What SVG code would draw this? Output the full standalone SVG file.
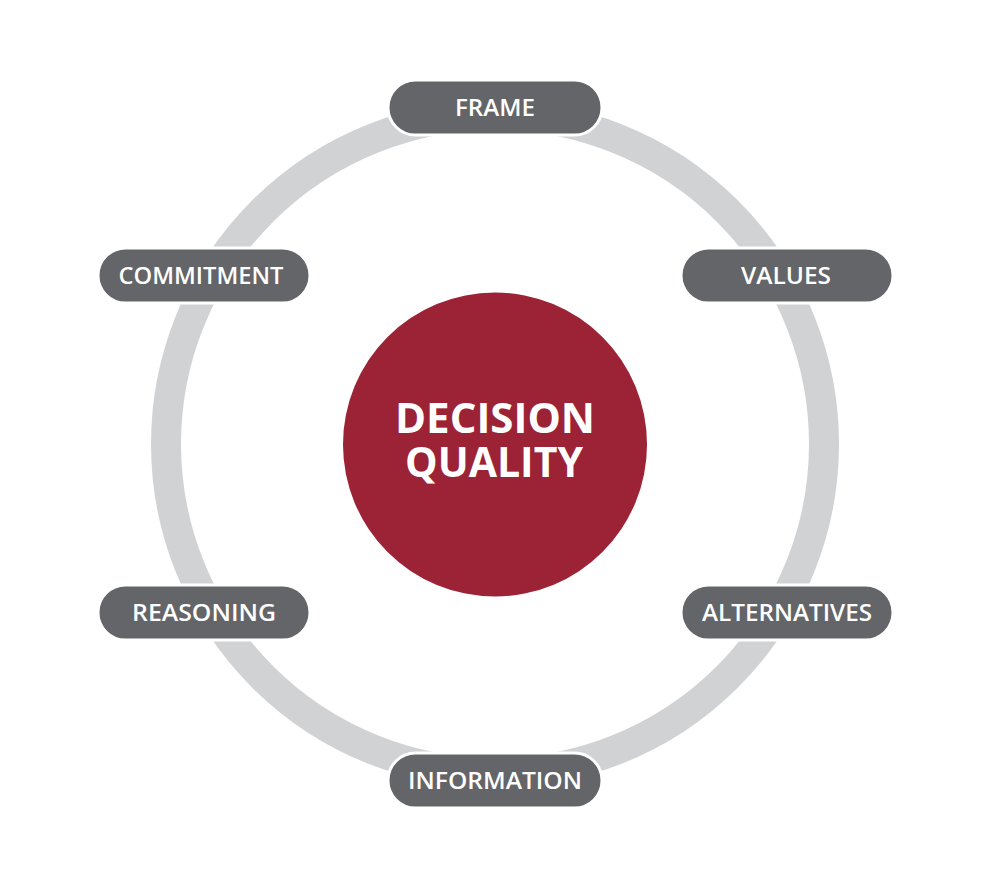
<svg xmlns="http://www.w3.org/2000/svg" width="990" height="889" viewBox="0 0 990 889">
<style>
.pill{fill:#636569;stroke:#ffffff;stroke-width:3}
.pt{font-family:"Open Sans","Liberation Sans",sans-serif;font-weight:600;font-size:24px;fill:#ffffff;text-anchor:middle}
.ct{font-family:"Open Sans","Liberation Sans",sans-serif;font-weight:700;font-size:42px;fill:#ffffff;text-anchor:middle}
</style>
<rect width="990" height="889" fill="#ffffff"/>
<g id="connectors">
<circle cx="495" cy="444" r="329" fill="none" stroke="#d1d2d4" stroke-width="30"/>
</g>
<g id="center">
<circle cx="495" cy="444.5" r="152" fill="#9c2235"/>
<text class="ct" x="495" y="433" textLength="200" lengthAdjust="spacingAndGlyphs">DECISION</text>
<text class="ct" x="494" y="477" textLength="178" lengthAdjust="spacingAndGlyphs">QUALITY</text>
</g>
<g id="frame">
<rect class="pill" x="388" y="80" width="214" height="55" rx="27.5"/>
<text class="pt" x="495" y="116" textLength="80" lengthAdjust="spacingAndGlyphs">FRAME</text>
</g>
<g id="values">
<rect class="pill" x="681" y="248" width="212" height="55" rx="27.5"/>
<text class="pt" x="786" y="284" textLength="90" lengthAdjust="spacingAndGlyphs">VALUES</text>
</g>
<g id="alternatives">
<rect class="pill" x="681" y="585" width="212" height="55" rx="27.5"/>
<text class="pt" x="787" y="621" textLength="170" lengthAdjust="spacingAndGlyphs">ALTERNATIVES</text>
</g>
<g id="information">
<rect class="pill" x="388" y="753" width="214" height="55" rx="27.5"/>
<text class="pt" x="495" y="789" textLength="174" lengthAdjust="spacingAndGlyphs">INFORMATION</text>
</g>
<g id="reasoning">
<rect class="pill" x="98" y="585" width="212" height="55" rx="27.5"/>
<text class="pt" x="204" y="621" textLength="144" lengthAdjust="spacingAndGlyphs">REASONING</text>
</g>
<g id="commitment">
<rect class="pill" x="98" y="248" width="212" height="55" rx="27.5"/>
<text class="pt" x="201" y="284" textLength="165" lengthAdjust="spacingAndGlyphs">COMMITMENT</text>
</g>
</svg>
